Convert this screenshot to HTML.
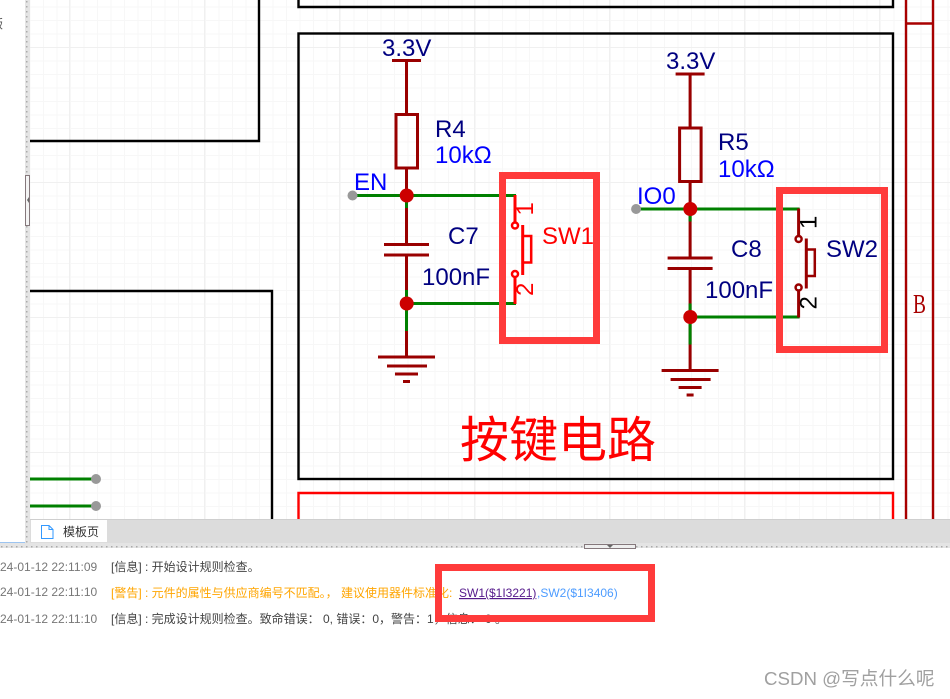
<!DOCTYPE html>
<html>
<head>
<meta charset="utf-8">
<style>
html,body{margin:0;padding:0;background:#fff;}
svg{display:block;}
text{font-family:"Liberation Sans","Noto Sans CJK SC",sans-serif;}
.n{font-size:24px;fill:#000080;}
.b{font-size:24px;fill:#0000ff;}
</style>
</head>
<body>
<svg width="950" height="699" viewBox="0 0 950 699" xmlns="http://www.w3.org/2000/svg">
<defs>
<pattern id="g" x="2.500" y="-7" width="13.500" height="13.500" patternUnits="userSpaceOnUse">
<path d="M0.500 0V13.500M0 0.500H13.500" stroke="#f7f7f7" stroke-width="1" fill="none"/>
</pattern>
<pattern id="m" x="69" y="47" width="135" height="135" patternUnits="userSpaceOnUse">
<path d="M0.500 0V135M0 0.500H135" stroke="#f0f0f0" stroke-width="1" fill="none"/>
</pattern>
<pattern id="d" x="0" y="0" width="5" height="5" patternUnits="userSpaceOnUse">
<rect width="5" height="5" fill="#e4e4e4"/>
<rect x="1" y="1" width="1.500" height="1.500" fill="#aaa"/>
</pattern>
</defs>

<rect width="950" height="699" fill="#fff"/>
<!-- canvas -->
<rect x="30" y="0" width="920" height="519" fill="url(#g)"/>
<rect x="30" y="0" width="920" height="519" fill="url(#m)"/>

<!-- frames -->
<g fill="none" stroke="#000" stroke-width="2.400">
<path d="M30 141H259V0"/>
<path d="M30 291H272V519"/>
<path d="M298.500 0V7H893V0"/>
<rect x="298.500" y="33.500" width="594.500" height="445.500"/>
</g>
<path d="M298.500 519V493H893V519" fill="none" stroke="#ff0000" stroke-width="2.400"/>
<g fill="none" stroke="#a80000" stroke-width="2.400">
<path d="M906 0V519M933 0V519M906 23.500H933"/>
</g>
<text transform="translate(913,313) scale(0.72,1)" style='font-family:"Liberation Serif",serif;font-size:27px' fill="#a80000">B</text>

<!-- left stubs -->
<g stroke="#008000" stroke-width="3"><path d="M30 479H96M30 506H96"/></g>
<circle cx="96" cy="479" r="5" fill="#999"/><circle cx="96" cy="506" r="5" fill="#999"/>

<!-- circuit 1 -->
<g>
<path d="M392 60.500H421" stroke="#990000" stroke-width="3"/>
<path d="M406.500 60V114M406.500 168V195M406.500 195V244M406.500 255V357" stroke="#990000" stroke-width="3" fill="none"/>
<rect x="396" y="114.500" width="21.500" height="53.500" fill="none" stroke="#990000" stroke-width="3"/>
<path d="M384 244.500H429M384 255H429" stroke="#990000" stroke-width="3"/>
<path d="M406.500 195V208M406.500 290V331" stroke="#008000" stroke-width="3"/>
<path d="M378 357H435M387 366H427M395 374H418M403 381.500H410" stroke="#990000" stroke-width="3"/>
<path d="M353 195.500H516M407 303.500H516" stroke="#008000" stroke-width="3"/>
<circle cx="352.500" cy="195.500" r="5" fill="#999"/>
<circle cx="406.700" cy="195.500" r="7" fill="#cc0000"/>
<circle cx="406.700" cy="303.500" r="7" fill="#cc0000"/>
<path d="M515 195V222M515 277V304M522.700 225V275" stroke="#ff0000" stroke-width="3" fill="none"/>
<rect x="522.700" y="236" width="8.500" height="26.500" fill="none" stroke="#ff0000" stroke-width="2.500"/>
<circle cx="515" cy="225.500" r="3" fill="#fff" stroke="#ff0000" stroke-width="2.500"/>
<circle cx="515" cy="274" r="3" fill="#fff" stroke="#ff0000" stroke-width="2.500"/>
<text transform="translate(533,215.500) rotate(-90)" font-size="24" fill="#ff0000">1</text>
<text transform="translate(533,296) rotate(-90)" font-size="24" fill="#ff0000">2</text>
</g>
<text class="n" x="382" y="56">3.3V</text>
<text class="n" x="435" y="137">R4</text>
<text class="b" x="435" y="163">10kΩ</text>
<text class="b" x="354" y="190">EN</text>
<text class="n" x="448" y="244">C7</text>
<text class="n" x="422" y="285">100nF</text>
<text x="542" y="244" font-size="24" fill="#ff0000">SW1</text>

<!-- circuit 2 -->
<g transform="translate(283.600,13.500)">
<path d="M392 60.500H421" stroke="#990000" stroke-width="3"/>
<path d="M406.500 60V114M406.500 168V195M406.500 195V244M406.500 255V357" stroke="#990000" stroke-width="3" fill="none"/>
<rect x="396" y="114.500" width="21.500" height="53.500" fill="none" stroke="#990000" stroke-width="3"/>
<path d="M384 244.500H429M384 255H429" stroke="#990000" stroke-width="3"/>
<path d="M406.500 195V208M406.500 290V331" stroke="#008000" stroke-width="3"/>
<path d="M378 357H435M387 366H427M395 374H418M403 381.500H410" stroke="#990000" stroke-width="3"/>
<path d="M353 195.500H516M407 303.500H516" stroke="#008000" stroke-width="3"/>
<circle cx="352.500" cy="195.500" r="5" fill="#999"/>
<circle cx="406.700" cy="195.500" r="7" fill="#cc0000"/>
<circle cx="406.700" cy="303.500" r="7" fill="#cc0000"/>
<path d="M515 195V222M515 277V304M522.700 225V275" stroke="#990000" stroke-width="3" fill="none"/>
<rect x="522.700" y="236" width="8.500" height="26.500" fill="none" stroke="#990000" stroke-width="2.500"/>
<circle cx="515" cy="225.500" r="3" fill="#fff" stroke="#990000" stroke-width="2.500"/>
<circle cx="515" cy="274" r="3" fill="#fff" stroke="#990000" stroke-width="2.500"/>
<text transform="translate(533,215.500) rotate(-90)" font-size="24" fill="#000">1</text>
<text transform="translate(533,296) rotate(-90)" font-size="24" fill="#000">2</text>
</g>
<text class="n" x="666" y="69">3.3V</text>
<text class="n" x="718" y="150">R5</text>
<text class="b" x="718" y="177">10kΩ</text>
<text class="b" x="637" y="204">IO0</text>
<text class="n" x="731" y="257">C8</text>
<text class="n" x="705" y="298">100nF</text>
<text class="n" x="826" y="257">SW2</text>

<text x="460" y="457" font-size="49" fill="#ff0000" style='font-family:"WenQuanYi Zen Hei","Noto Sans CJK SC",sans-serif'>按键电路</text>

<!-- annotation boxes -->
<rect x="502.500" y="175.500" width="94" height="165" fill="none" stroke="#ff3b3b" stroke-width="7"/>
<rect x="779.500" y="190.500" width="105" height="159" fill="none" stroke="#ff3b3b" stroke-width="7"/>

<!-- left panel -->
<rect x="0" y="0" width="25" height="543" fill="#fff"/>
<rect x="25" y="0" width="5" height="543" fill="url(#d)"/>
<rect x="25.500" y="175.500" width="4" height="50" fill="#f4f4f4" stroke="#85787c" stroke-width="1"/>
<path d="M29 197L27 200L29 203Z" fill="#666"/>
<text x="-9" y="28" font-size="12" fill="#555">版</text>
<rect x="0" y="542" width="25" height="1" fill="#9cc4f0"/>

<!-- tab bar -->
<rect x="30" y="519" width="920" height="24" fill="#dcdcdc"/>
<rect x="30" y="519" width="920" height="1" fill="#cfcfcf"/>
<rect x="31" y="520" width="76" height="22" fill="#fff"/>
<path d="M41.500 525.500H49L53 529.500V538.500H41.500Z" fill="#fff" stroke="#3399ff" stroke-width="1"/>
<path d="M49 525.500V529.500H53" fill="none" stroke="#3399ff" stroke-width="1"/>
<text x="63" y="536" font-size="12" fill="#333">模板页</text>
<rect x="0" y="543" width="950" height="5" fill="url(#d)"/>
<rect x="584.500" y="544.500" width="51" height="4" fill="#eee" stroke="#85787c" stroke-width="1"/>
<path d="M607 545H613L610 548Z" fill="#666"/>

<!-- log -->
<g font-size="12">
<text x="0" y="571" fill="#777">24-01-12 22:11:09</text>
<text x="111" y="571" fill="#444">[信息] : 开始设计规则检查。</text>
<text x="0" y="596" fill="#777">24-01-12 22:11:10</text>
<text x="111" y="597" fill="#ffa500">[警告] : 元件的属性与供应商编号不匹配。， 建议使用器件标准化: </text>
<text x="459" y="597" fill="#551a8b" text-decoration="underline">SW1($1I3221)</text>
<text x="537" y="597" fill="#4d9cff">,SW2($1I3406)</text>
<text x="0" y="623" fill="#777">24-01-12 22:11:10</text>
<text x="111" y="623" fill="#444">[信息] : 完成设计规则检查。致命错误： 0, 错误：0，警告：1，信息： 0 。</text>
</g>
<rect x="438.500" y="567.500" width="213" height="51" fill="none" stroke="#ff3b3b" stroke-width="7"/>

<text x="764" y="685" font-size="18.700" fill="#a0a0a0">CSDN @写点什么呢</text>
</svg>
</body>
</html>
